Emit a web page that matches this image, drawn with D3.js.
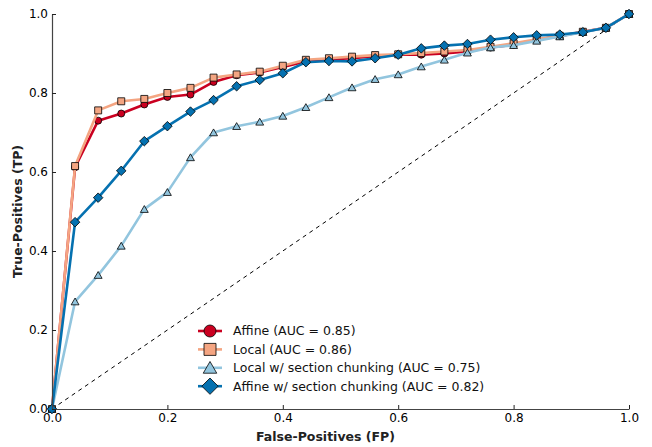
<!DOCTYPE html>
<html>
<head>
<meta charset="utf-8">
<script src="https://d3js.org/d3.v7.min.js"></script>
<style>
body { margin: 0; background: #fff; }
text { font-family: "DejaVu Sans", sans-serif; }
</style>
</head>
<body>
<script>
const width = 652;
const height = 447;
const margin = {top: 14, right: 23, bottom: 38, left: 52};

// false-positive rate at each threshold
const fp = [0, 0.04, 0.08, 0.12, 0.16, 0.20, 0.24, 0.28, 0.32, 0.36, 0.40, 0.44, 0.48,
  0.52, 0.56, 0.60, 0.64, 0.68, 0.72, 0.76, 0.80, 0.84, 0.88, 0.92, 0.96, 1.0];

const affine = [0, 0.612, 0.730, 0.748, 0.771, 0.790, 0.796, 0.828, 0.845, 0.852, 0.866,
  0.880, 0.885, 0.888, 0.893, 0.897, 0.897, 0.900, 0.905, 0.915, 0.922, 0.935, 0.944, 0.955, 0.965, 1.0];
const local = [0, 0.615, 0.756, 0.779, 0.785, 0.800, 0.813, 0.839, 0.847, 0.854, 0.869,
  0.884, 0.888, 0.892, 0.896, 0.898, 0.901, 0.905, 0.909, 0.917, 0.926, 0.936, 0.945, 0.955, 0.965, 1.0];
const localChunk = [0, 0.272, 0.339, 0.413, 0.506, 0.549, 0.637, 0.700, 0.716, 0.727, 0.742,
  0.764, 0.789, 0.814, 0.835, 0.847, 0.867, 0.884, 0.902, 0.915, 0.921, 0.932, 0.943, 0.954, 0.965, 1.0];
const affineChunk = [0, 0.473, 0.535, 0.603, 0.678, 0.716, 0.753, 0.782, 0.817, 0.833, 0.850,
  0.878, 0.881, 0.880, 0.888, 0.897, 0.913, 0.920, 0.924, 0.935, 0.941, 0.946, 0.948, 0.954, 0.965, 1.0];

const xTicks = [0, 0.2, 0.4, 0.6, 0.8, 1.0];
const yTicks = [0, 0.2, 0.4, 0.6, 0.8, 1.0];

const series = [
  {name: "Affine (AUC = 0.85)", values: affine, color: "#ca0020", marker: "circle"},
  {name: "Local (AUC = 0.86)", values: local, color: "#f4a582", marker: "square"},
  {name: "Local w/ section chunking (AUC = 0.75)", values: localChunk, color: "#92c5de", marker: "triangle"},
  {name: "Affine w/ section chunking (AUC = 0.82)", values: affineChunk, color: "#0571b0", marker: "diamond"}
];

const svg = d3.select("body").append("svg")
  .attr("width", width)
  .attr("height", height);

const x = d3.scaleLinear().domain([0, 1]).range([margin.left, width - margin.right]);
const y = d3.scaleLinear().domain([0, 1]).range([height - margin.bottom, margin.top]);

// chance diagonal
svg.append("line")
  .attr("x1", x(0)).attr("y1", y(0))
  .attr("x2", x(1)).attr("y2", y(1))
  .attr("stroke", "#000")
  .attr("stroke-width", 1)
  .attr("stroke-dasharray", "4,4");

function markerPath(type, s) {
  if (type === "diamond") {
    const r = s * 0.68;
    return "M0," + (-r) + "L" + r + ",0L0," + r + "L" + (-r) + ",0Z";
  }
  if (type === "circle") return d3.symbol().type(d3.symbolCircle).size(Math.PI * s * s / 4)();
  if (type === "square") return d3.symbol().type(d3.symbolSquare).size(s * s)();
  return d3.symbol().type(d3.symbolTriangle).size(s * s * 0.55)();
}

const line = d3.line()
  .x(function(d, i) { return x(fp[i]); })
  .y(function(d) { return y(d); });

series.forEach(function(s) {
  const g = svg.append("g");
  g.append("path")
    .datum(s.values)
    .attr("d", line)
    .attr("fill", "none")
    .attr("stroke", s.color)
    .attr("stroke-width", 2.6)
    .attr("stroke-linejoin", "round");
  g.selectAll("path.mk")
    .data(s.values)
    .enter().append("path")
    .attr("class", "mk")
    .attr("d", markerPath(s.marker, 7))
    .attr("transform", function(d, i) {
      const dy = s.marker === "triangle" ? 1 : 0;
      return "translate(" + x(fp[i]) + "," + (y(d) + dy) + ")";
    })
    .attr("fill", s.color)
    .attr("stroke", "#000")
    .attr("stroke-width", 0.8);
});

// axes (ticks inside)
const xAxis = svg.append("g")
  .attr("transform", "translate(0," + y(0) + ")")
  .call(d3.axisBottom(x).tickValues(xTicks).tickFormat(d3.format(".1f"))
    .tickSizeInner(-4).tickSizeOuter(0).tickPadding(6));
const yAxis = svg.append("g")
  .attr("transform", "translate(" + x(0) + ",0)")
  .call(d3.axisLeft(y).tickValues(yTicks).tickFormat(d3.format(".1f"))
    .tickSizeInner(-4).tickSizeOuter(0).tickPadding(4));

[xAxis, yAxis].forEach(function(a) {
  a.select(".domain").attr("stroke", "#444").attr("stroke-width", 1.2);
  a.selectAll(".tick line").attr("stroke", "#222");
  a.selectAll(".tick text")
    .attr("fill", "#000")
    .style("font-size", "12px")
    .style("font-family", "DejaVu Sans, sans-serif");
});
xAxis.selectAll(".tick text").attr("dy", "0.55em");

svg.append("text")
  .attr("x", (x(0) + x(1)) / 2 - 15)
  .attr("y", 441)
  .attr("text-anchor", "middle")
  .style("font-size", "12.5px")
  .style("font-weight", "bold")
  .attr("fill", "#222")
  .text("False-Positives (FP)");

svg.append("text")
  .attr("transform", "translate(22," + ((y(0) + y(1)) / 2) + ") rotate(-90)")
  .attr("text-anchor", "middle")
  .style("font-size", "12.5px")
  .style("font-weight", "bold")
  .attr("fill", "#222")
  .text("True-Positives (TP)");

// legend
const legend = svg.append("g").attr("transform", "translate(198,331)");
series.forEach(function(s, i) {
  const row = legend.append("g").attr("transform", "translate(0," + (i * 18.4) + ")");
  row.append("line")
    .attr("x1", 0).attr("x2", 24)
    .attr("stroke", s.color)
    .attr("stroke-width", 2.6);
  row.append("path")
    .attr("d", markerPath(s.marker, 12))
    .attr("transform", "translate(12," + (s.marker === "triangle" ? 1.5 : 0) + ")")
    .attr("fill", s.color)
    .attr("stroke", "#000")
    .attr("stroke-width", 0.8);
  row.append("text")
    .attr("x", 35)
    .attr("y", 0)
    .attr("dy", "0.35em")
    .style("font-size", "12.5px")
    .attr("fill", "#111")
    .text(s.name);
});
</script>
</body>
</html>
